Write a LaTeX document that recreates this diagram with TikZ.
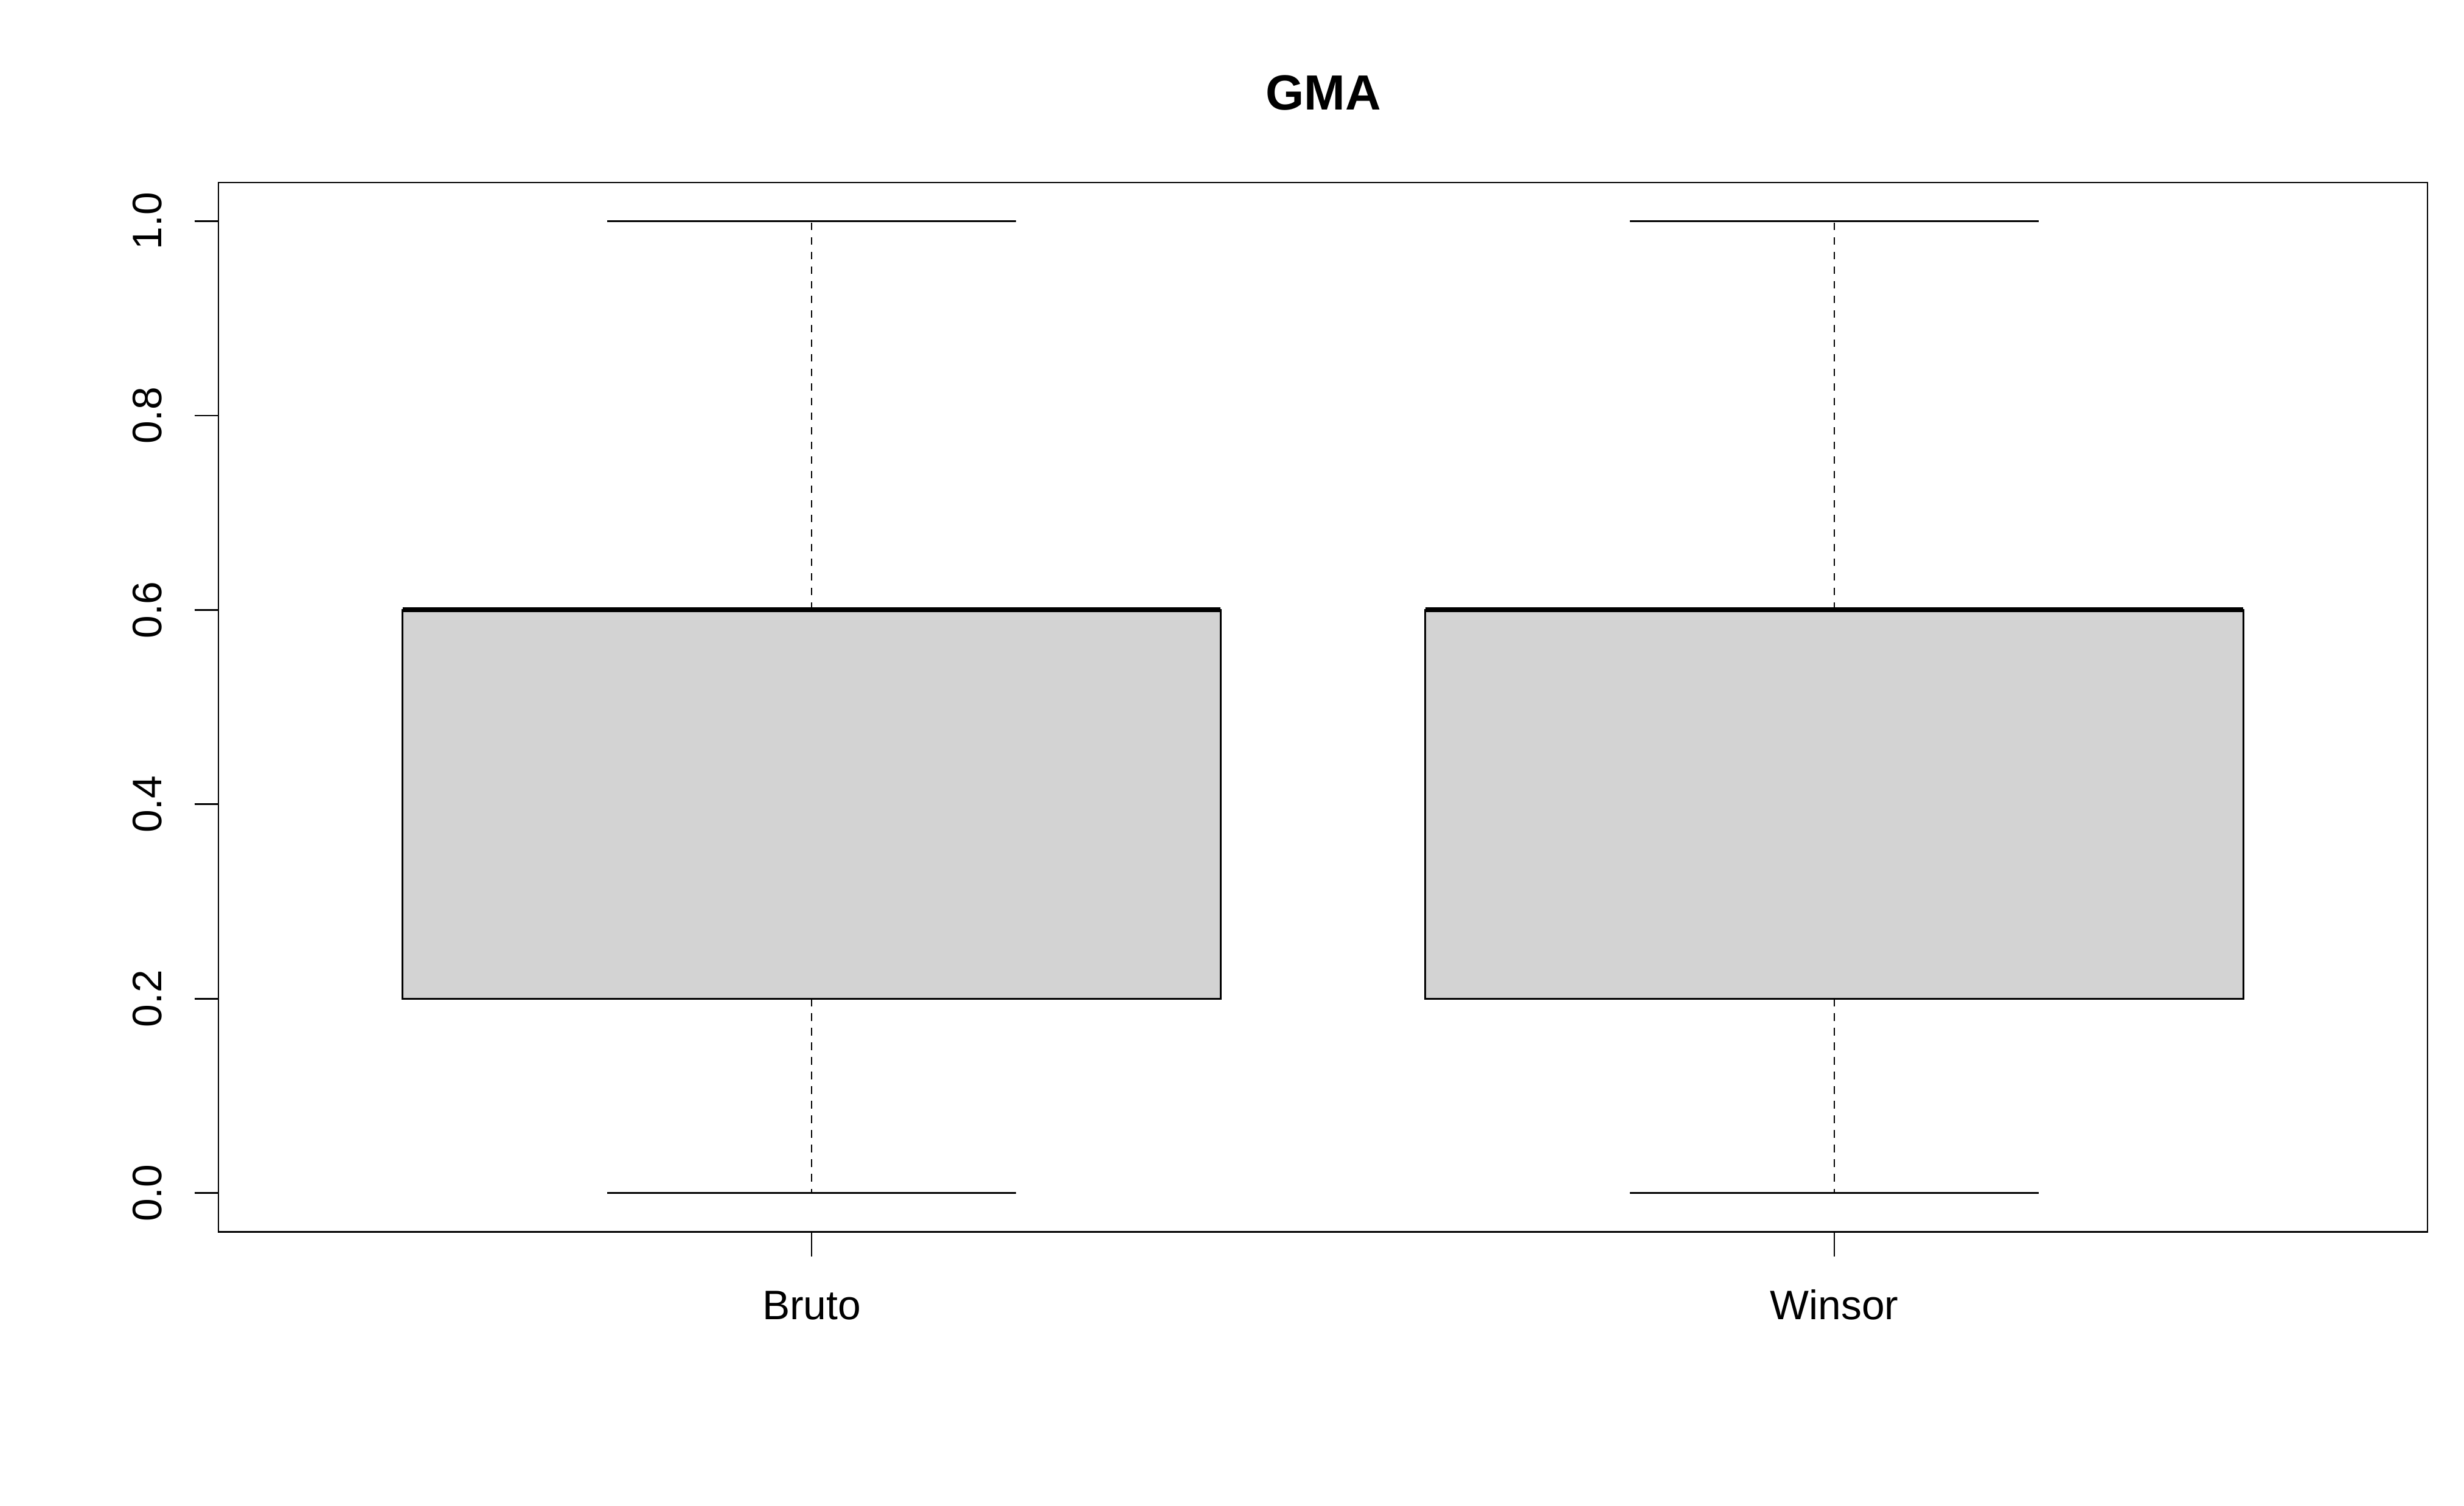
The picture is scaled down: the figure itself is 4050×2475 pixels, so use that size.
\documentclass[tikz,border=0pt]{standalone}
\usepackage{fontspec}
\setmainfont{Liberation Sans}
\tikzset{
  axisline/.style={line width=0.78pt, line cap=butt},
  boxshape/.style={fill=boxgray, draw=black, line width=0.78pt},
  medianline/.style={line width=2.3pt},
  whisker/.style={line width=0.8pt, dash pattern=on 0.125cm off 0.115cm},
  staple/.style={line width=0.78pt},
  ticklab/.style={font=\fontsize{19.26}{23}\selectfont, inner sep=0pt},
  titlelab/.style={font=\fontsize{23.1}{28}\selectfont\bfseries, inner sep=0pt}
}
\definecolor{boxgray}{HTML}{D3D3D3}
\begin{document}
\begin{tikzpicture}[x=0.01cm,y=-0.01cm]
\useasboundingbox[fill=white] (0,0) rectangle (4050,2475);
% title
\node[titlelab, anchor=base] (title) at (2175,180) {GMA};
% boxes
\foreach \cx/\nm in {1334/b1,3015/b2}{
  \coordinate (\nm-top) at (\cx,363.4);
  \coordinate (\nm-q3) at (\cx,1002.4);
  \coordinate (\nm-q1) at (\cx,1641.3);
  \coordinate (\nm-bot) at (\cx,1960.8);
  \draw[whisker] (\nm-q3) -- (\nm-top);
  \draw[whisker] (\nm-q1) -- (\nm-bot);
  \draw[staple] ([xshift=-3.36cm]\nm-top) -- ([xshift=3.36cm]\nm-top);
  \draw[staple] ([xshift=-3.36cm]\nm-bot) -- ([xshift=3.36cm]\nm-bot);
  \draw[boxshape] ([xshift=-6.72cm]\nm-q1) rectangle ([xshift=6.72cm]\nm-q3);
  \draw[medianline] ([xshift=-6.72cm]\nm-q3) -- ([xshift=6.72cm]\nm-q3);
}
% frame
\draw[axisline] (359,300) rectangle (3990,2024.5);
% y ticks and labels
\foreach \yy/\lab [count=\i] in {1960.8/0.0,1641.3/0.2,1321.8/0.4,1002.4/0.6,682.9/0.8,363.4/1.0}{
  \draw[axisline] (319.7,\yy) -- (359,\yy);
  \node[ticklab, rotate=90, anchor=base] (ylab\i) at (265.7,\yy) {\lab};
}
% x ticks and labels
\draw[axisline] (1334,2024.5) -- (1334,2065);
\draw[axisline] (3015,2024.5) -- (3015,2065);
\node[ticklab, anchor=base] (xlab1) at (1334,2168.3) {Bruto};
\node[ticklab, anchor=base] (xlab2) at (3015,2168.3) {Winsor};
\end{tikzpicture}
\end{document}
